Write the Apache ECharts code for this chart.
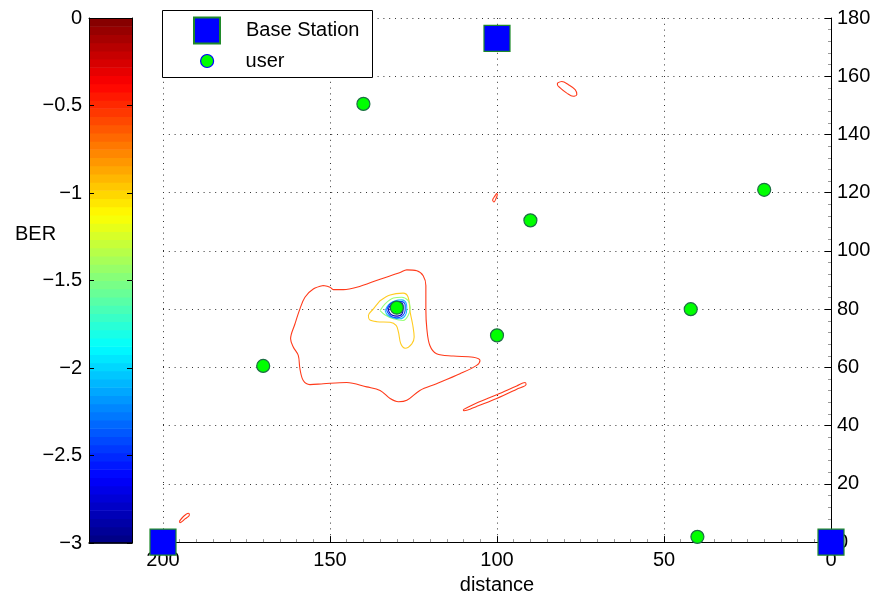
<!DOCTYPE html>
<html><head><meta charset="utf-8">
<script src="https://cdn.jsdelivr.net/npm/echarts@6/dist/echarts.min.js"></script>
<style>html,body{margin:0;padding:0;background:#fff}#c{width:879px;height:600px}</style>
</head><body><div id="c"></div>
<script>
// ---- data ----
const xTickValues = [200, 150, 100, 50, 0];
const yTickValues = [0, 20, 40, 60, 80, 100, 120, 140, 160, 180];
const cbTickValues = [0, -0.5, -1, -1.5, -2, -2.5, -3];
const cbRange = [-3, 0];
const cbSteps = 64;
const baseStations = [[200, 0], [100, 173], [0, 0]];
const users = [[140, 150.5], [20, 121], [90, 110.5], [42, 80], [100, 71], [130, 80.5], [170, 60.5], [40, 1.8]];
const contourRedMain = [[152.0,88.1],[150.0,87.5],[149.0,86.7],[146.0,86.7],[142.0,87.5],[135.0,90.3],[129.0,92.6],[127.0,93.5],[124.0,93.2],[122.1,91.5],[121.3,88.1],[121.3,80.1],[121.0,73.2],[120.1,67.5],[118.1,64.7],[113.1,63.9],[107.1,63.5],[105.1,62.4],[106.1,60.7],[111.1,57.8],[118.1,54.4],[123.1,52.1],[127.0,48.7],[129.5,48.2],[132.0,49.3],[135.0,52.1],[139.0,53.3],[145.0,54.8],[152.0,54.4],[156.0,54.1],[158.0,55.5],[159.0,59.5],[159.5,64.1],[161.0,67.0],[161.8,69.8],[160.5,74.9],[159.0,80.1],[157.5,84.1],[155.0,86.9],[152.0,88.1]];
const contourRedLow = [[110.1,45.5],[106.1,47.8],[100.1,50.6],[94.1,53.6],[91.6,54.8],[91.3,54.1],[94.1,52.5],[100.1,49.3],[106.1,46.6],[109.9,45.1],[110.1,45.5]];
const contourRedTop = [[81.9,157.7],[80.6,158.2],[78.6,157.1],[76.6,155.4],[76.1,153.7],[77.2,153.1],[79.1,154.2],[81.1,156.0],[81.9,157.1],[81.9,157.7]];
const contourRedSmall = [[100.1,119.8],[100.6,118.9],[101.3,117.5],[100.9,116.8],[100.3,118.0],[99.9,119.4],[100.1,119.8]];
const contourRedCorner = [[195.1,7.1],[193.9,8.8],[192.4,9.9],[192.1,9.3],[193.4,8.0],[194.9,6.7],[195.1,7.1]];
const contourYellow = [[135.0,82.9],[132.0,84.9],[128.1,85.5],[126.6,84.1],[126.0,79.0],[125.2,74.4],[124.8,70.4],[125.5,68.1],[127.5,66.6],[128.8,68.1],[129.5,72.1],[130.2,74.4],[132.0,75.5],[136.0,75.7],[138.2,76.4],[138.5,77.8],[137.0,80.1],[135.0,82.9]];
const contourGreen = [[135.0,79.5],[133.5,81.8],[131.0,83.8],[128.5,84.1],[126.6,82.9],[126.0,80.6],[126.6,77.8],[128.1,76.1],[131.0,76.7],[133.5,78.0],[135.0,79.5]];
const contourCyan = [[133.5,79.5],[132.5,81.5],[130.5,82.9],[128.5,83.2],[127.2,82.1],[127.0,80.1],[127.5,77.8],[129.0,76.7],[131.0,77.0],[132.8,78.0],[133.5,79.5]];
const contourBlue = [[133.0,79.8],[132.0,81.8],[130.2,82.6],[128.5,82.6],[127.5,81.5],[127.5,79.5],[128.2,77.8],[130.0,77.0],[131.8,77.6],[132.8,79.0],[133.0,79.8]];
const contourNavy = [[132.5,80.1],[131.8,81.5],[130.5,82.1],[128.5,82.1],[128.1,80.6],[128.4,78.4],[129.9,77.6],[131.5,78.0],[132.3,79.0],[132.5,80.1]];

// ---- jet colormap (style) ----
function clamp(v){return Math.max(0, Math.min(1, v));}
function jet(t){
  const r = clamp(1.5 - Math.abs(4*t - 3)), g = clamp(1.5 - Math.abs(4*t - 2)), b = clamp(1.5 - Math.abs(4*t - 1));
  return 'rgb(' + Math.round(r*255) + ',' + Math.round(g*255) + ',' + Math.round(b*255) + ')';
}
const cbCells = [];
for (let i = 0; i < cbSteps; i++) {
  const lo = cbRange[0] + (cbRange[1]-cbRange[0]) * i / cbSteps;
  const hi = cbRange[0] + (cbRange[1]-cbRange[0]) * (i+1) / cbSteps;
  cbCells.push([lo, hi, i]);
}
const cbColors = cbCells.map(c => jet((c[2] + 0.5) / cbSteps));

const FONT = "'Liberation Sans', Arial, Helvetica, sans-serif";
const fmtMinus = v => v === 0 ? '0' : (v < 0 ? '\u2212' + Math.abs(v) : String(v));
const dotted = {show: true, lineStyle: {color: '#333', width: 1, type: [1, 4.8]}};

function contour(data, color) {
  return {type: 'line', xAxisIndex: 0, yAxisIndex: 0, data: data, symbol: 'none', smooth: 0.35,
    lineStyle: {color: color, width: 1.1}, z: 2, silent: true, animation: false};
}

const chart = echarts.init(document.getElementById('c'), null, {renderer: 'canvas'});
chart.setOption({
  animation: false,
  backgroundColor: '#fff',
  textStyle: {fontFamily: FONT},
  title: {text: 'BER', left: 10, top: 219, textStyle: {fontSize: 20, fontWeight: 'normal', color: '#000', fontFamily: FONT}},
  grid: [
    {left: 163, right: 48, top: 18, bottom: 56},
    {left: 89, width: 43, top: 18, bottom: 57}
  ],
  xAxis: [
    {type: 'value', gridIndex: 0, inverse: true, min: 0, max: 200, interval: 50, position: 'bottom',
      name: 'distance', nameLocation: 'middle', nameGap: 31,
      nameTextStyle: {fontSize: 20, color: '#000', fontFamily: FONT},
      axisLine: {show: true, lineStyle: {color: '#000', width: 1}},
      axisTick: {show: true, inside: true, length: 6, lineStyle: {color: '#000'}},
      minorTick: {show: true, splitNumber: 10, length: 3, lineStyle: {color: '#999'}},
      axisLabel: {fontSize: 20, color: '#000', margin: 8, fontFamily: FONT,
        customValues: xTickValues},
      splitLine: dotted},
    {type: 'value', gridIndex: 1, min: 0, max: 1, position: 'bottom', z: 5,
      axisLine: {show: true, onZero: false, lineStyle: {color: '#000', width: 1.5}}, axisTick: {show: false}, axisLabel: {show: false}, splitLine: {show: false}},
    {type: 'value', gridIndex: 1, min: 0, max: 1, position: 'top', z: 5,
      axisLine: {show: true, onZero: false, lineStyle: {color: '#000', width: 1}}, axisTick: {show: false}, axisLabel: {show: false}, splitLine: {show: false}}
  ],
  yAxis: [
    {type: 'value', gridIndex: 0, min: 0, max: 180, interval: 20, position: 'right',
      axisLine: {show: true, onZero: false, lineStyle: {color: '#000', width: 1}},
      axisTick: {show: true, inside: true, length: 6, lineStyle: {color: '#000'}},
      minorTick: {show: true, splitNumber: 5, length: 3, lineStyle: {color: '#999'}},
      axisLabel: {fontSize: 20, color: '#000', margin: 6, fontFamily: FONT, customValues: yTickValues},
      splitLine: dotted},
    {type: 'value', gridIndex: 1, min: -3, max: 0, interval: 0.5, position: 'left', z: 5,
      axisLine: {show: true, onZero: false, lineStyle: {color: '#000', width: 1}},
      axisTick: {show: true, inside: true, length: 5, lineStyle: {color: '#000'}},
      axisLabel: {fontSize: 20, color: '#000', margin: 7, fontFamily: FONT, formatter: fmtMinus, customValues: cbTickValues},
      splitLine: {show: false}},
    {type: 'value', gridIndex: 1, min: -3, max: 0, interval: 0.5, position: 'right', z: 5,
      axisLine: {show: true, onZero: false, lineStyle: {color: '#000', width: 1}},
      axisTick: {show: true, inside: true, length: 5, lineStyle: {color: '#000'}},
      axisLabel: {show: false}, splitLine: {show: false}}
  ],
  graphic: [{type: 'rect', z: 10, shape: {x: 162.5, y: 10.5, width: 210, height: 67}, style: {fill: '#fff', stroke: '#000', lineWidth: 1}}],
  legend: [
    {data: ['Base Station'], left: 193, top: 16.5, padding: 0, itemWidth: 26, itemHeight: 26, selectedMode: false, z: 20,
      textStyle: {fontSize: 20, color: '#000', fontFamily: FONT, padding: [0, 0, 0, 21]}},
    {data: ['user'], left: 200, top: 51, padding: 0, itemWidth: 13, itemHeight: 13, selectedMode: false, z: 20,
      itemStyle: {borderColor: '#0000ff', borderWidth: 1.2},
      textStyle: {fontSize: 20, color: '#000', fontFamily: FONT, padding: [0, 0, 0, 27]}}
  ],
  series: [
    {type: 'custom', name: 'colorbar', xAxisIndex: 1, yAxisIndex: 1, data: cbCells, silent: true,
      encode: {y: [0, 1]},
      renderItem: function (params, api) {
        const p0 = api.coord([0, api.value(0)]);
        const p1 = api.coord([1, api.value(1)]);
        return {type: 'rect', shape: {x: p0[0], y: p1[1], width: p1[0] - p0[0], height: p0[1] - p1[1] + 0.6},
          style: {fill: cbColors[api.value(2)]}};
      }},
    contour(contourRedMain, '#ff3a1a'),
    contour(contourRedLow, '#ff3a1a'),
    contour(contourRedTop, '#ff3a1a'),
    contour(contourRedSmall, '#ff3a1a'),
    contour(contourRedCorner, '#ff3a1a'),
    contour(contourYellow, '#ffcc22'),
    contour(contourGreen, '#99ff77'),
    contour(contourCyan, '#22bbff'),
    contour(contourBlue, '#0040ff'),
    contour(contourNavy, '#0000c0'),
    {type: 'scatter', name: 'Base Station', xAxisIndex: 0, yAxisIndex: 0, data: baseStations, symbol: 'rect', symbolSize: 26,
      itemStyle: {color: '#0000ff', borderColor: '#1f8a2a', borderWidth: 1.2, opacity: 1}, clip: false, z: 6, silent: true},
    {type: 'scatter', name: 'user', xAxisIndex: 0, yAxisIndex: 0, data: users, symbol: 'circle', symbolSize: 13,
      itemStyle: {color: '#00ff00', borderColor: '#1d6e45', borderWidth: 1.2, opacity: 1}, clip: false, z: 6, silent: true}
  ]
});
</script>
</body></html>
